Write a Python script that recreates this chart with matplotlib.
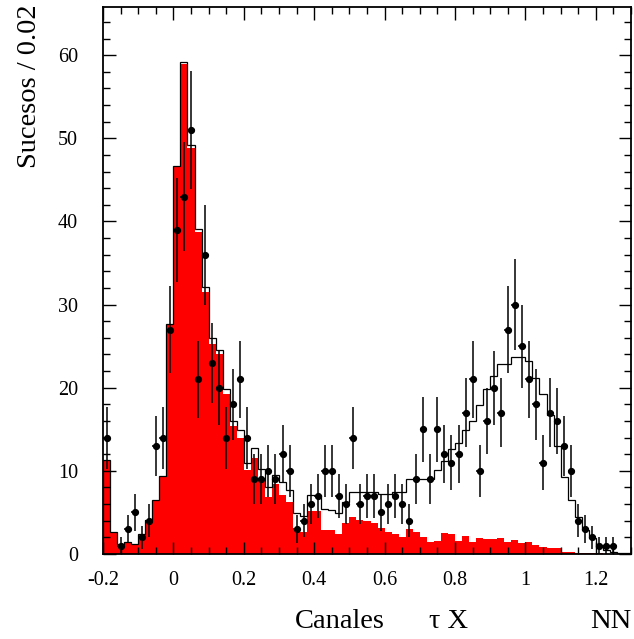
import numpy as np
import matplotlib
matplotlib.use("Agg")
import matplotlib.pyplot as plt
from matplotlib.ticker import MultipleLocator

plt.rcParams['font.family'] = ['Liberation Serif', 'DejaVu Serif']

# Binning of the NN output: 75 bins of width 0.02 from -0.2 to 1.3
x_min, x_max, bin_width = -0.2, 1.3, 0.02
edges = np.round(np.arange(x_min, x_max + bin_width / 2, bin_width), 4)
centers = 0.5 * (edges[:-1] + edges[1:])

# Observed events per bin
data_counts = [14, 0, 1, 3, 5, 2, 4, 13, 14, 27,
               39, 43, 51, 21, 36, 23, 20, 14, 18, 21,
               14, 9, 9, 10, 9, 12, 10, 3, 4, 6,
               7, 10, 10, 7, 6, 14, 6, 7, 7, 5,
               6, 7, 6, 4, 9, 15, 9, 15, 12, 11,
               12, 17, 21, 10, 16, 20, 17, 27, 30, 25,
               21, 18, 11, 17, 16, 13, 10, 4, 3, 2,
               1, 1, 1, 0, 0]

# Background expectation (filled red)
background = [11.2, 2.5, 1.1, 1.4, 1.1, 2.3, 4.0, 6.4, 9.3, 27.5,
              46.5, 58.9, 48.8, 38.7, 31.5, 25.3, 24.1, 19.2, 15.4, 14.0,
              10.1, 11.6, 8.9, 6.9, 8.4, 7.1, 6.3, 2.9, 2.7, 5.2,
              5.2, 2.9, 2.9, 2.4, 3.7, 4.5, 4.1, 4.0, 3.7, 3.1,
              2.6, 2.4, 2.0, 3.0, 2.7, 2.0, 1.4, 1.6, 2.5, 2.4,
              1.6, 2.2, 1.5, 1.9, 1.8, 1.8, 1.9, 1.5, 1.7, 1.3,
              1.4, 1.1, 0.9, 0.7, 0.7, 0.3, 0.3, 0.15, 0.1, 0.1,
              0.1, 0.05, 0.05, 0.05, 0.05]

# Total expectation, signal + background (open histogram)
total = [11.3, 2.6, 1.2, 1.5, 1.2, 2.4, 4.1, 6.5, 9.4, 27.7,
         46.7, 59.2, 49.2, 39.1, 32.1, 26.0, 24.5, 19.8, 16.0, 14.9,
         10.9, 12.7, 10.2, 8.1, 9.5, 8.7, 7.7, 4.9, 4.6, 7.1,
         7.1, 5.4, 5.3, 4.9, 6.3, 7.5, 7.5, 7.4, 7.4, 7.2,
         7.2, 7.4, 7.5, 9.0, 9.0, 9.0, 9.0, 10.1, 11.2, 12.6,
         13.3, 14.9, 16.0, 17.9, 19.9, 21.4, 22.8, 22.8, 23.7, 23.7,
         23.2, 21.2, 19.3, 16.7, 13.0, 9.3, 6.5, 4.5, 2.9, 1.9,
         0.9, 0.5, 0.2, 0.1, 0.1]

x_ticks = [-0.2, 0, 0.2, 0.4, 0.6, 0.8, 1, 1.2]
x_tick_labels = ['-0.2', '0', '0.2', '0.4', '0.6', '0.8', '1', '1.2']
y_ticks = [0, 10, 20, 30, 40, 50, 60]

W, H = 634, 639
fig = plt.figure(figsize=(W / 100, H / 100), dpi=100)
ax = fig.add_axes([103 / W, 1 - 554 / H, 528 / W, 547 / H])

ax.stairs(background, edges, fill=True, color='#ff0000', linewidth=0, zorder=1)
ax.stairs(total, edges, color='black', linewidth=0.9, zorder=2)

counts = np.array(data_counts, dtype=float)
mask = counts > 0
ax.errorbar(centers[mask], counts[mask], yerr=np.sqrt(counts[mask]),
            xerr=bin_width / 2, fmt='o', color='black', markersize=4.2,
            elinewidth=1.1, capsize=0, zorder=3)

ax.set_xlim(x_min, x_max)
ax.set_ylim(0, 65.8)
ax.set_xticks(x_ticks)
ax.set_xticklabels(x_tick_labels)
ax.set_yticks(y_ticks)
ax.xaxis.set_minor_locator(MultipleLocator(0.05))
ax.yaxis.set_minor_locator(MultipleLocator(2))
ax.tick_params(which='both', direction='in', top=True, right=True,
               labelsize=14.5, width=1.0, color='black')
ax.tick_params(which='major', length=9)
ax.tick_params(which='minor', length=4.8)
ax.tick_params(axis='x', which='major', pad=12)
ax.tick_params(axis='y', which='major', pad=18)
ax.set_axisbelow(False)
for sp in ax.spines.values():
    sp.set_linewidth(1.3)

label_size = 20.5
fig.text(30 / W, 1 - 4 / H, 'Sucesos / 0.02', rotation=90,
         ha='center', va='top', fontsize=label_size)
fig.text(295 / W, 1 - 628 / H, 'Canales', ha='left', va='baseline', fontsize=label_size)
fig.text(429 / W, 1 - 628 / H, '\u03c4 X', ha='left', va='baseline', fontsize=label_size)
fig.text(631 / W, 1 - 628 / H, 'NN', ha='right', va='baseline', fontsize=label_size)

fig.savefig('out.png', dpi=100)
